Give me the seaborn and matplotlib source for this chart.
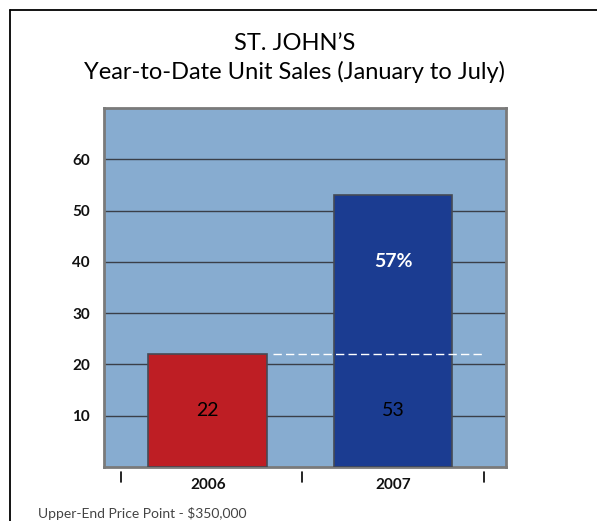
import matplotlib
matplotlib.use("Agg")
import matplotlib.pyplot as plt
from matplotlib.lines import Line2D
import seaborn as sns
import pandas as pd

years = ["2006", "2007"]
unit_sales = [22, 53]
change_label = "57%"
y_ticks = [10, 20, 30, 40, 50, 60]
title_lines = ["ST. JOHN\u2019S", "Year-to-Date Unit Sales (January to July)"]
footer = "Upper-End Price Point - $350,000"

sns.set_theme(style="white")
plt.rcParams["font.family"] = ["Lato", "DejaVu Sans"]

df = pd.DataFrame({"year": years, "units": unit_sales})

fig = plt.figure(figsize=(5.97, 5.21), dpi=100)
ax = fig.add_axes([104 / 597, 1 - 467 / 521, (506 - 104) / 597, (467 - 108) / 521])

ax.set_facecolor("#87acd0")
sns.barplot(data=df, x="year", y="units", hue="year",
            palette=["#be1e24", "#1b3c91"], saturation=1, width=0.64, legend=False,
            edgecolor="#454a55", linewidth=1.2, ax=ax, zorder=3)

ax.set_xlim(-0.56, 1.61)
ax.set_ylim(0, 70)
ax.set_yticks(y_ticks)
ax.set_yticklabels([str(t) for t in y_ticks], fontsize=11, fontweight="bold", color="#111111")
ax.tick_params(axis="y", length=0, pad=10)
ax.tick_params(axis="x", length=0, pad=8)
ax.set_xticks([0, 1])
ax.set_xticklabels(years, fontsize=11, fontweight="bold", color="#111111")
ax.set_xlabel("")
ax.set_ylabel("")
ax.yaxis.grid(True, color="#3a3f48", linewidth=1.0, zorder=1)
ax.set_axisbelow(True)
for side in ax.spines.values():
    side.set_color("#7a7a7a")
    side.set_linewidth(2)

# category separator ticks under the axis
for xs in [-0.47, 0.51, 1.49]:
    ax.plot([xs, xs], [-1.0, -3.0], color="black", lw=1.2, clip_on=False)

# reference line at the 2006 level
ax.plot([0.35, 1.49], [unit_sales[0], unit_sales[0]], color="white",
        lw=1.0, ls=(0, (6, 3)), zorder=4)

# value labels
for i, v in enumerate(unit_sales):
    ax.text(i, unit_sales[0] / 2, str(v), ha="center", va="center",
            fontsize=14, color="black", zorder=5)
ax.text(1, 40, change_label, ha="center", va="center", fontsize=14,
        fontweight="bold", color="white", zorder=5)

fig.text(0.494, 1 - 43 / 521, title_lines[0], ha="center", va="center",
         fontsize=17, color="black")
fig.text(0.494, 1 - 72 / 521, title_lines[1], ha="center", va="center",
         fontsize=17, color="black")
fig.text(38 / 597, 1 - 513 / 521, footer, ha="left", va="center",
         fontsize=10, color="#444444")

# page frame
fig.add_artist(Line2D([10 / 597, 10 / 597], [0, 1 - 10 / 521], color="black", lw=1.3,
                      transform=fig.transFigure))
fig.add_artist(Line2D([10 / 597, 1], [1 - 10 / 521, 1 - 10 / 521], color="black", lw=1.3,
                      transform=fig.transFigure))

fig.savefig("out.png", dpi=100)
